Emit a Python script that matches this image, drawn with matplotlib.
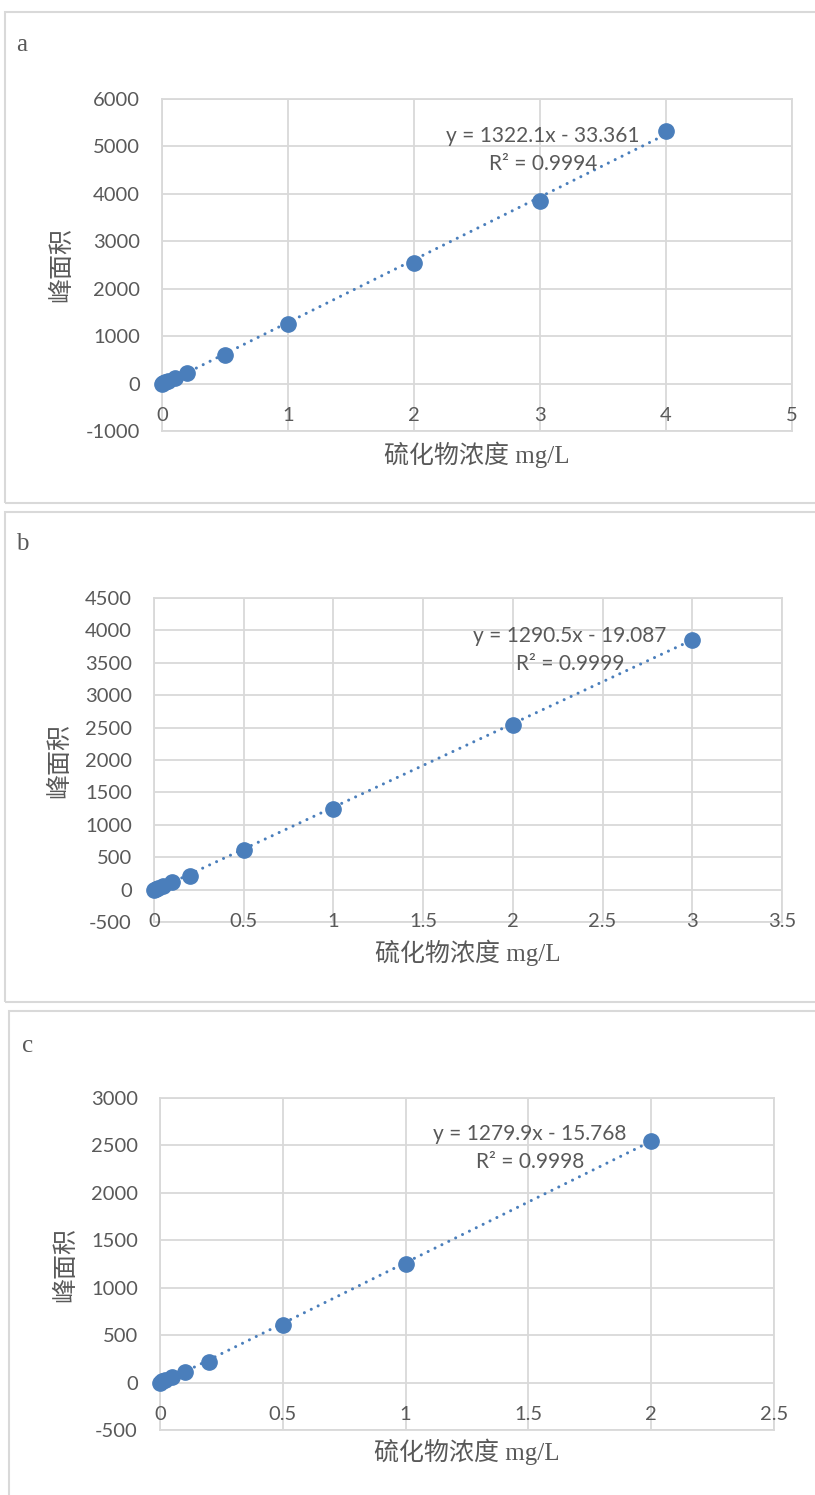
import matplotlib
matplotlib.use("Agg")
import matplotlib.pyplot as plt
from matplotlib.patches import Rectangle
import numpy as np

plt.rcParams['font.family'] = ['Lato', 'Noto Sans CJK SC', 'DejaVu Sans']

W, H = 815, 1495

# ---- data ----
conc_a = [0, 0.01, 0.02, 0.05, 0.1, 0.2, 0.5, 1, 2, 3, 4]
area_a = [0, 12, 25, 60, 115, 215, 612, 1248, 2548, 3855, 5328]
conc_b = [0, 0.01, 0.02, 0.05, 0.1, 0.2, 0.5, 1, 2, 3]
area_b = [0, 12, 25, 60, 112, 216, 614, 1248, 2545, 3855]
conc_c = [0, 0.01, 0.02, 0.05, 0.1, 0.2, 0.5, 1, 2]
area_c = [0, 12, 25, 60, 116, 220, 612, 1252, 2548]

slopes = [1322.1, 1290.5, 1279.9]
intercepts = [-33.361, -19.087, -15.768]
r2 = ["0.9994", "0.9999", "0.9998"]
panel_letters = ["a", "b", "c"]

xticks_a = [0, 1, 2, 3, 4, 5]
yticks_a = [-1000, 0, 1000, 2000, 3000, 4000, 5000, 6000]
xticks_b = [0, 0.5, 1, 1.5, 2, 2.5, 3, 3.5]
yticks_b = [-500, 0, 500, 1000, 1500, 2000, 2500, 3000, 3500, 4000, 4500]
xticks_c = [0, 0.5, 1, 1.5, 2, 2.5]
yticks_c = [-500, 0, 500, 1000, 1500, 2000, 2500, 3000]

xlabel = "硫化物浓度 mg/L"
ylabel = "峰面积"

# ---- layout (pixels) ----
panels = [
    dict(x=conc_a, y=area_a, xt=xticks_a, yt=yticks_a,
         ax=(162, 99, 792, 431), box=(5, 12, 830, 503), letter=(22, 45),
         eq=(543, 136), ylab_x=62, xlab_y=455),
    dict(x=conc_b, y=area_b, xt=xticks_b, yt=yticks_b,
         ax=(154, 598, 782, 922), box=(5, 512, 830, 1002), letter=(22, 544),
         eq=(570, 636), ylab_x=60, xlab_y=953),
    dict(x=conc_c, y=area_c, xt=xticks_c, yt=yticks_c,
         ax=(160, 1098, 774, 1430), box=(9, 1011, 830, 1510), letter=(28, 1046),
         eq=(530, 1134), ylab_x=66, xlab_y=1452),
]

BLUE = '#4A7EBB'
GRID = '#D9D9D9'
TXT = '#595959'
TICK_FS = 14.5
EQ_FS = 15
LAB_FS = 18
LAB_FAMILY = ['Liberation Serif', 'Noto Sans CJK SC', 'DejaVu Sans']

fig = plt.figure(figsize=(W / 100, H / 100), dpi=100)

def fx(px):
    return px / W

def fy(py):
    return 1 - py / H

for i, p in enumerate(panels):
    bx0, by0, bx1, by1 = p['box']
    fig.add_artist(Rectangle((fx(bx0), fy(by1)), fx(bx1 - bx0), (by1 - by0) / H,
                             transform=fig.transFigure, fill=False,
                             ec=GRID, lw=1.5, zorder=0))
    fig.text(fx(p['letter'][0]), fy(p['letter'][1]), panel_letters[i],
             family='Liberation Serif', fontsize=18, color=TXT,
             ha='center', va='center')

    x0, y0, x1, y1 = p['ax']
    ax = fig.add_axes([fx(x0), fy(y1), fx(x1 - x0), (y1 - y0) / H])
    xt, yt = p['xt'], p['yt']
    ax.set_xlim(xt[0], xt[-1])
    ax.set_ylim(yt[0], yt[-1])
    ax.set_xticks(xt)
    ax.set_yticks(yt)
    ax.set_xticklabels([])
    ax.set_yticklabels([str(v) for v in yt], fontsize=TICK_FS, color=TXT)
    ax.tick_params(length=0)
    ax.tick_params(axis='y', pad=16)
    ax.grid(True, color=GRID, lw=1.3)
    ax.set_axisbelow(True)
    for s in ax.spines.values():
        s.set_color(GRID)
        s.set_linewidth(1.3)
    for v in xt:
        lab = ('%g' % v)
        ax.annotate(lab, (v, 0), xytext=(0, -23), textcoords='offset pixels',
                    ha='center', va='top', fontsize=TICK_FS, color=TXT,
                    annotation_clip=False)

    xs = np.array(p['x'], dtype=float)
    ys = np.array(p['y'], dtype=float)
    xl = np.array([xs.min(), xs.max()])
    ax.plot(xl, slopes[i] * xl + intercepts[i], color=BLUE, lw=2.2,
            linestyle=(0, (0.01, 2.5)), dash_capstyle='round', zorder=2)
    ax.plot(xs, ys, 'o', color=BLUE, ms=11, mec=BLUE, zorder=3,
            clip_on=False)

    sign = '-' if intercepts[i] < 0 else '+'
    eq1 = "y = %gx %s %g" % (slopes[i], sign, abs(intercepts[i]))
    eq2 = "R² = " + r2[i]
    ex, ey = p['eq']
    fig.text(fx(ex), fy(ey), eq1, fontsize=EQ_FS, color=TXT, ha='center', va='center')
    fig.text(fx(ex), fy(ey + 28), eq2, fontsize=EQ_FS, color=TXT, ha='center', va='center')

    ax.set_ylabel(ylabel, fontsize=LAB_FS, color=TXT, family=LAB_FAMILY)
    ax.yaxis.set_label_coords((p['ylab_x'] - x0) / (x1 - x0), 0.5)
    ax.yaxis.label.set_va('center')
    ax.set_xlabel(xlabel, fontsize=LAB_FS, color=TXT, family=LAB_FAMILY)
    ax.xaxis.set_label_coords(0.5, -(p['xlab_y'] - y1) / (y1 - y0))
    ax.xaxis.label.set_va('center')

fig.savefig('out.png', dpi=100)
